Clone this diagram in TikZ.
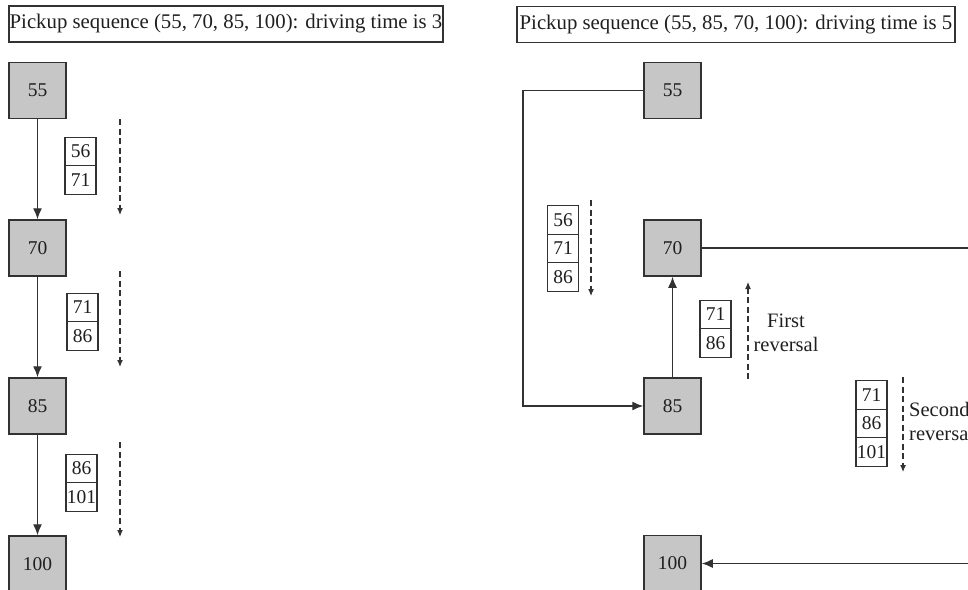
\documentclass[tikz,border=0pt]{standalone}
\usepackage{fontspec}
\setmainfont{Liberation Serif}
\usetikzlibrary{arrows.meta}
\definecolor{boxgray}{RGB}{198,198,198}
\definecolor{edgecol}{RGB}{50,50,50}
\begin{document}
\begin{tikzpicture}[x=1pt,y=-1pt,
  every node/.style={font=\fontsize{19.5}{22.5}\selectfont, text=black!88},
  stopbox/.style={draw=edgecol, line width=1.5pt, fill=boxgray, minimum width=57pt, minimum height=56pt, inner sep=0pt},
  cellbox/.style={draw=edgecol, line width=1.1pt, fill=white, minimum width=31pt, minimum height=28.5pt, inner sep=0pt},
  titlebox/.style={draw=edgecol, line width=1.2pt, minimum height=36pt, inner sep=0pt, font=\fontsize{20.8}{24}\selectfont},
  connarrow/.style={draw=edgecol, line width=1.3pt, -{Latex[length=11pt,width=9pt]}},
  dasharrow/.style={draw=edgecol, line width=1.1pt, dash pattern=on 6pt off 3.5pt, -{Latex[length=7pt,width=6pt]}},
  lbltext/.style={align=left, inner sep=0pt, font=\fontsize{20.5}{24}\selectfont}
]
\useasboundingbox (0,0) rectangle (968,589);
\clip (0,0) rectangle (968,589);

% titles
\node[titlebox, minimum width=434pt] (t1) at (226,24) {Pickup sequence (55, 70, 85, 100): driving time is 3};
\node[titlebox, minimum width=438pt] (t2) at (736,24.5) {Pickup sequence (55, 85, 70, 100): driving time is 5};

% left column
\node[stopbox] (a55) at (37.5,90.5) {55};
\node[stopbox] (a70) at (37.5,248) {70};
\node[stopbox] (a85) at (37.5,406) {85};
\node[stopbox] (a100) at (37.5,564) {100};
\draw[connarrow] (a55) -- (a70);
\draw[connarrow] (a70) -- (a85);
\draw[connarrow] (a85) -- (a100);

\node[cellbox] (l1a) at (80.5,151.5) {56};
\node[cellbox] (l1b) at (80.5,180) {71};
\node[cellbox] (l2a) at (82.5,307.5) {71};
\node[cellbox] (l2b) at (82.5,336) {86};
\node[cellbox] (l3a) at (81.5,468.5) {86};
\node[cellbox] (l3b) at (81.5,497) {101};

\coordinate (d1s) at (120,119); \coordinate (d1e) at (120,215);
\coordinate (d2s) at (120,271); \coordinate (d2e) at (120,367);
\coordinate (d3s) at (120,442); \coordinate (d3e) at (120,537);
\draw[dasharrow] (d1s) -- (d1e);
\draw[dasharrow] (d2s) -- (d2e);
\draw[dasharrow] (d3s) -- (d3e);

% right column
\node[stopbox] (b55) at (672.5,90.5) {55};
\node[stopbox] (b70) at (672.5,248) {70};
\node[stopbox] (b85) at (672.5,406) {85};
\node[stopbox] (b100) at (672.5,563.5) {100};

\coordinate (k1) at (523,90.5);
\coordinate (k2) at (523,406);
\draw[connarrow] (b55.west) -- (k1) -- (k2) -- (b85.west);
\draw[connarrow] (b85) -- (b70);
\coordinate (k3) at (1000,248);
\coordinate (k4) at (1000,563.5);
\draw[connarrow] (b70.east) -- (k3) -- (k4) -- (b100.east);

\node[cellbox] (r1a) at (563,220) {56};
\node[cellbox] (r1b) at (563,248.5) {71};
\node[cellbox] (r1c) at (563,277) {86};
\node[cellbox] (r2a) at (715.5,314.5) {71};
\node[cellbox] (r2b) at (715.5,343) {86};
\node[cellbox] (r3a) at (871.5,395) {71};
\node[cellbox] (r3b) at (871.5,423.5) {86};
\node[cellbox] (r3c) at (871.5,452) {101};

\coordinate (e1s) at (591,200); \coordinate (e1e) at (591,296);
\coordinate (e2s) at (748,379); \coordinate (e2e) at (748,282);
\coordinate (e3s) at (903,377); \coordinate (e3e) at (903,472);
\draw[dasharrow] (e1s) -- (e1e);
\draw[dasharrow] (e2s) -- (e2e);
\draw[dasharrow] (e3s) -- (e3e);

\node[lbltext, align=center] (first) at (786,333) {First\\reversal};
\node[lbltext, anchor=west] (second) at (909,421) {Second\\reversal};
\end{tikzpicture}
\end{document}
